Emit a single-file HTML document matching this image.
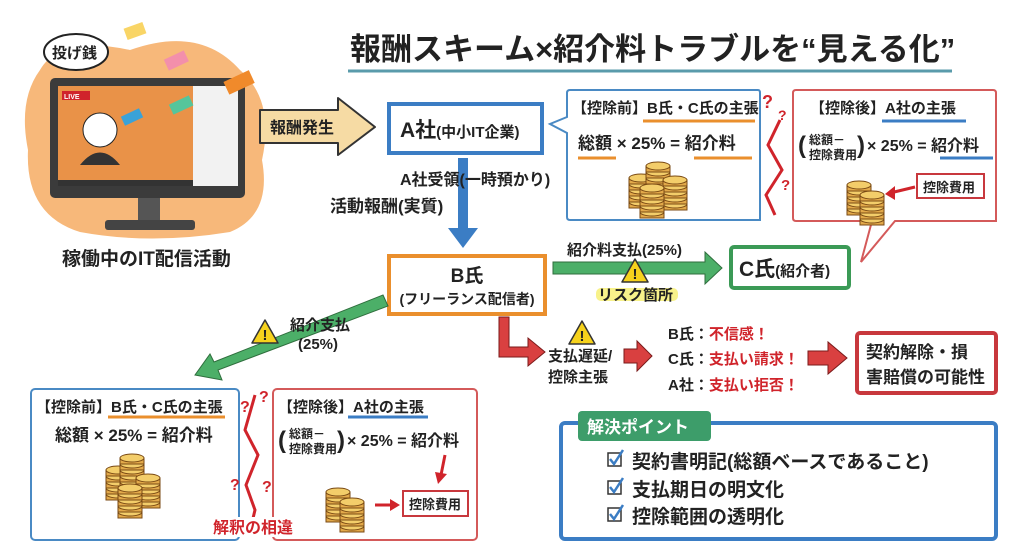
<!DOCTYPE html>
<html><head><meta charset="utf-8"><style>
html,body{margin:0;padding:0;background:#fff;}
svg{display:block;}
text{font-family:"Liberation Sans","Noto Sans CJK JP",sans-serif;font-weight:bold;fill:#222;}
.r{fill:#d0242b;}
</style></head><body>
<svg width="1024" height="559" viewBox="0 0 1024 559" xmlns="http://www.w3.org/2000/svg">
<defs>
<g id="coin"><rect x="-12" y="0" width="24" height="6" fill="#e2a94a" stroke="#7a4a14" stroke-width="1"/><ellipse cx="0" cy="0" rx="12" ry="4" fill="#f3cd6a" stroke="#7a4a14" stroke-width="1"/></g>
<g id="stack"><use href="#coin" y="24"/><use href="#coin" y="18"/><use href="#coin" y="12"/><use href="#coin" y="6"/><use href="#coin" y="0"/></g>
<g id="warn"><path d="M0,-13 L13,10 L-13,10 Z" fill="#f6d21c" stroke="#333" stroke-width="1.5" stroke-linejoin="round"/><text x="0" y="7" font-size="15" text-anchor="middle">!</text></g>
</defs>

<!-- Title -->
<text x="350" y="60" font-size="31">報酬スキーム×紹介料トラブルを“見える化”</text>
<line x1="348" y1="71" x2="952" y2="71" stroke="#5a9bab" stroke-width="3"/>

<!-- Monitor illustration -->
<path d="M40,70 Q60,35 130,50 Q200,25 240,70 Q275,100 262,160 Q272,215 230,232 Q150,245 80,232 Q25,215 28,150 Q18,100 40,70Z" fill="#f7b87a"/>
<rect x="50" y="78" width="195" height="120" rx="5" fill="#3b3b3b"/>
<rect x="58" y="86" width="135" height="100" fill="#e99248"/>
<rect x="193" y="86" width="45" height="100" fill="#f2f2f2"/>
<rect x="62" y="91" width="28" height="9" fill="#d0242b"/><text x="64" y="99" font-size="7" style="fill:#fff">LIVE</text>
<circle cx="100" cy="130" r="17" fill="#fff" stroke="#222"/><path d="M80,165 Q100,140 120,165Z" fill="#333"/>
<rect x="58" y="180" width="135" height="6" fill="#333"/>
<rect x="138" y="198" width="22" height="22" fill="#555"/>
<rect x="105" y="220" width="90" height="10" rx="3" fill="#444"/>
<rect x="125" y="25" width="20" height="12" fill="#f9d566" transform="rotate(-20 135 31)"/>
<rect x="165" y="55" width="22" height="12" fill="#f38fab" transform="rotate(-25 175 60)"/>
<rect x="225" y="75" width="28" height="14" fill="#f08a2b" transform="rotate(-25 240 82)"/>
<rect x="170" y="100" width="22" height="11" fill="#55c59b" transform="rotate(-25 180 105)"/>
<rect x="122" y="112" width="20" height="10" fill="#3aa2d8" transform="rotate(-25 132 117)"/>
<ellipse cx="76" cy="52" rx="32" ry="18" fill="#fff" stroke="#222" stroke-width="2"/>
<text x="52" y="58" font-size="15">投げ銭</text>
<text x="62" y="265" font-size="19">稼働中のIT配信活動</text>

<!-- 報酬発生 arrow -->
<path d="M260,110 L338,110 L338,98 L375,127 L338,155 L338,143 L260,143Z" fill="#f6dba4" stroke="#333" stroke-width="2" stroke-linejoin="round"/>
<text x="270" y="133" font-size="16">報酬発生</text>

<!-- A社 -->
<rect x="389" y="104" width="153" height="49" fill="#fff" stroke="#3b7dc4" stroke-width="4"/>
<text x="400" y="137" font-size="21">A社<tspan font-size="15">(中小IT企業)</tspan></text>
<path d="M458,158 L468,158 L468,228 L478,228 L463,248 L448,228 L458,228Z" fill="#3b7dc4"/>
<text x="400" y="185" font-size="16">A社受領(一時預かり)</text>
<text x="330" y="212" font-size="17">活動報酬(実質)</text>

<!-- B氏 -->
<rect x="389" y="256" width="156" height="58" fill="#fff" stroke="#ea8f2d" stroke-width="4"/>
<text x="467" y="282" font-size="19" text-anchor="middle">B氏</text>
<text x="467" y="304" font-size="14" text-anchor="middle">(フリーランス配信者)</text>

<!-- top blue bubble -->
<path d="M570,90 L758,90 Q760,90 760,93 L760,220 L570,220 Q567,220 567,217 L567,133 L550,124 L567,117 L567,93 Q567,90 570,90Z" fill="#fff" stroke="#4a8ac4" stroke-width="2"/>
<text x="572" y="113" font-size="15">【控除前】B氏・C氏の主張</text>
<line x1="643" y1="121" x2="755" y2="121" stroke="#ea8f2d" stroke-width="3"/>
<text x="578" y="149" font-size="17">総額 × 25% = 紹介料</text>
<line x1="578" y1="158" x2="616" y2="158" stroke="#ea8f2d" stroke-width="3"/>
<line x1="694" y1="158" x2="752" y2="158" stroke="#ea8f2d" stroke-width="3"/>
<use href="#stack" x="641" y="178"/><use href="#stack" x="658" y="166"/><use href="#stack" x="675" y="180"/><use href="#stack" x="652" y="188"/>

<!-- zigzag top -->
<path d="M780,120 L768,145 L782,170 L766,195 L775,215" fill="none" stroke="#d0242b" stroke-width="3"/>
<text x="762" y="108" font-size="18" class="r">?</text><text x="778" y="120" font-size="14" class="r">?</text><text x="781" y="190" font-size="15" class="r">?</text>

<!-- top red bubble -->
<path d="M796,90 L993,90 Q996,90 996,93 L996,221 L895,221 L861,262 L872,221 L796,221 Q793,221 793,218 L793,93 Q793,90 796,90Z" fill="#fff" stroke="#d45a5a" stroke-width="2"/>
<text x="810" y="113" font-size="15">【控除後】A社の主張</text>
<line x1="882" y1="121" x2="966" y2="121" stroke="#3b7dc4" stroke-width="3"/>
<text x="798" y="153" font-size="24" font-weight="normal">(</text>
<text x="809" y="144" font-size="12">総額－</text><text x="809" y="159" font-size="12">控除費用</text>
<text x="857" y="153" font-size="24" font-weight="normal">)</text>
<text x="867" y="151" font-size="16">× 25% = 紹介料</text>
<line x1="940" y1="158" x2="993" y2="158" stroke="#3b7dc4" stroke-width="3"/>
<use href="#stack" x="859" y="185"/><use href="#stack" x="872" y="195" />
<path d="M915,187 L890,193" stroke="#d0242b" stroke-width="3"/><path d="M885,194 L895,186 L895,200Z" fill="#d0242b"/>
<rect x="917" y="174" width="67" height="24" fill="#fff" stroke="#c8383d" stroke-width="2"/>
<text x="923" y="192" font-size="13">控除費用</text>

<!-- B->C green arrow -->
<path d="M553,262 L705,262 L705,252 L722,268 L705,284 L705,274 L553,274Z" fill="#4caf68" stroke="#2f6e3d" stroke-width="1"/>
<text x="567" y="255" font-size="15">紹介料支払(25%)</text>
<use href="#warn" x="635" y="272"/>
<rect x="596" y="288" width="82" height="13" rx="5" fill="#f8f28a"/>
<text x="598" y="300" font-size="15">リスク箇所</text>
<rect x="731" y="247" width="118" height="41" rx="3" fill="#fff" stroke="#3b9a56" stroke-width="4"/>
<text x="739" y="276" font-size="21">C氏<tspan font-size="15">(紹介者)</tspan></text>

<!-- diagonal green arrow -->
<path d="M383,295 L388,306 L218,370 L222,380 L195,375 L210,354 L214,362Z" fill="#4caf68" stroke="#2f6e3d" stroke-width="1"/>
<use href="#warn" x="265" y="333"/>
<text x="290" y="330" font-size="15">紹介支払</text>
<text x="298" y="349" font-size="15">(25%)</text>

<!-- bottom-left blue box -->
<rect x="31" y="389" width="208" height="151" rx="4" fill="#fff" stroke="#4a8ac4" stroke-width="2"/>
<text x="36" y="412" font-size="15">【控除前】B氏・C氏の主張</text>
<line x1="108" y1="417" x2="225" y2="417" stroke="#ea8f2d" stroke-width="3"/>
<text x="55" y="441" font-size="17">総額 × 25% = 紹介料</text>
<use href="#stack" x="118" y="470"/><use href="#stack" x="132" y="458"/><use href="#stack" x="148" y="478"/><use href="#stack" x="130" y="488"/>

<path d="M255,395 L245,430 L258,455 L246,485 L255,510 L249,535" fill="none" stroke="#d0242b" stroke-width="3"/>
<text x="240" y="412" font-size="16" class="r">?</text><text x="259" y="402" font-size="16" class="r">?</text>
<text x="230" y="490" font-size="16" class="r">?</text><text x="262" y="492" font-size="16" class="r">?</text>

<rect x="273" y="389" width="204" height="151" rx="4" fill="#fff" stroke="#d45a5a" stroke-width="2"/>
<text x="278" y="412" font-size="15">【控除後】A社の主張</text>
<line x1="348" y1="417" x2="428" y2="417" stroke="#3b7dc4" stroke-width="3"/>
<text x="278" y="448" font-size="24" font-weight="normal">(</text>
<text x="289" y="438" font-size="12">総額－</text><text x="289" y="453" font-size="12">控除費用</text>
<text x="337" y="448" font-size="24" font-weight="normal">)</text>
<text x="347" y="446" font-size="16">× 25% = 紹介料</text>
<path d="M445,455 L441,475" stroke="#d0242b" stroke-width="3"/><path d="M435,472 L447,474 L438,484Z" fill="#d0242b"/>
<use href="#stack" x="338" y="492" /><use href="#stack" x="352" y="502"/>
<path d="M375,505 L392,505" stroke="#d0242b" stroke-width="3"/><path d="M390,499 L400,505 L390,511Z" fill="#d0242b"/>
<rect x="403" y="491" width="65" height="25" fill="#fff" stroke="#c8383d" stroke-width="2"/>
<text x="409" y="509" font-size="13">控除費用</text>
<rect x="212" y="517" width="86" height="20" fill="#fff"/>
<text x="213" y="533" font-size="16" class="r">解釈の相違</text>

<!-- red L arrow -->
<path d="M499,317 L509,317 L509,347 L528,347 L528,338 L545,352 L528,366 L528,357 L499,357Z" fill="#d94040" stroke="#7a1a1a" stroke-width="1"/>
<use href="#warn" x="582" y="334"/>
<text x="548" y="361" font-size="15">支払遅延/</text>
<text x="548" y="382" font-size="15">控除主張</text>
<path d="M624,349 L637,349 L637,341 L652,356 L637,371 L637,363 L624,363Z" fill="#d94040" stroke="#7a1a1a" stroke-width="1"/>
<text x="668" y="339" font-size="15">B氏：<tspan class="r">不信感！</tspan></text>
<text x="668" y="364" font-size="15">C氏：<tspan class="r">支払い請求！</tspan></text>
<text x="668" y="390" font-size="15">A社：<tspan class="r">支払い拒否！</tspan></text>
<path d="M808,351 L828,351 L828,342 L847,358 L828,374 L828,365 L808,365Z" fill="#d94040" stroke="#7a1a1a" stroke-width="1"/>
<rect x="857" y="333" width="139" height="60" rx="3" fill="#fff" stroke="#c8383d" stroke-width="4"/>
<text x="866" y="358" font-size="17">契約解除・損</text>
<text x="866" y="383" font-size="17">害賠償の可能性</text>

<!-- solution box -->
<rect x="561" y="423" width="435" height="116" rx="4" fill="#fff" stroke="#3b7dc4" stroke-width="4"/>
<rect x="578" y="411" width="133" height="30" rx="4" fill="#3d9d6a"/>
<text x="587" y="433" font-size="17" style="fill:#fff">解決ポイント</text>
<rect x="608" y="453" width="13" height="13" fill="#fff" stroke="#333" stroke-width="1.5"/><path d="M610,459 L614,464 L623,450" fill="none" stroke="#3b7dc4" stroke-width="2.5"/>
<text x="632" y="468" font-size="19">契約書明記(総額ベースであること)</text>
<rect x="608" y="481" width="13" height="13" fill="#fff" stroke="#333" stroke-width="1.5"/><path d="M610,487 L614,492 L623,478" fill="none" stroke="#3b7dc4" stroke-width="2.5"/>
<text x="632" y="496" font-size="19">支払期日の明文化</text>
<rect x="608" y="508" width="13" height="13" fill="#fff" stroke="#333" stroke-width="1.5"/><path d="M610,514 L614,519 L623,505" fill="none" stroke="#3b7dc4" stroke-width="2.5"/>
<text x="632" y="523" font-size="19">控除範囲の透明化</text>
</svg>
</body></html>
